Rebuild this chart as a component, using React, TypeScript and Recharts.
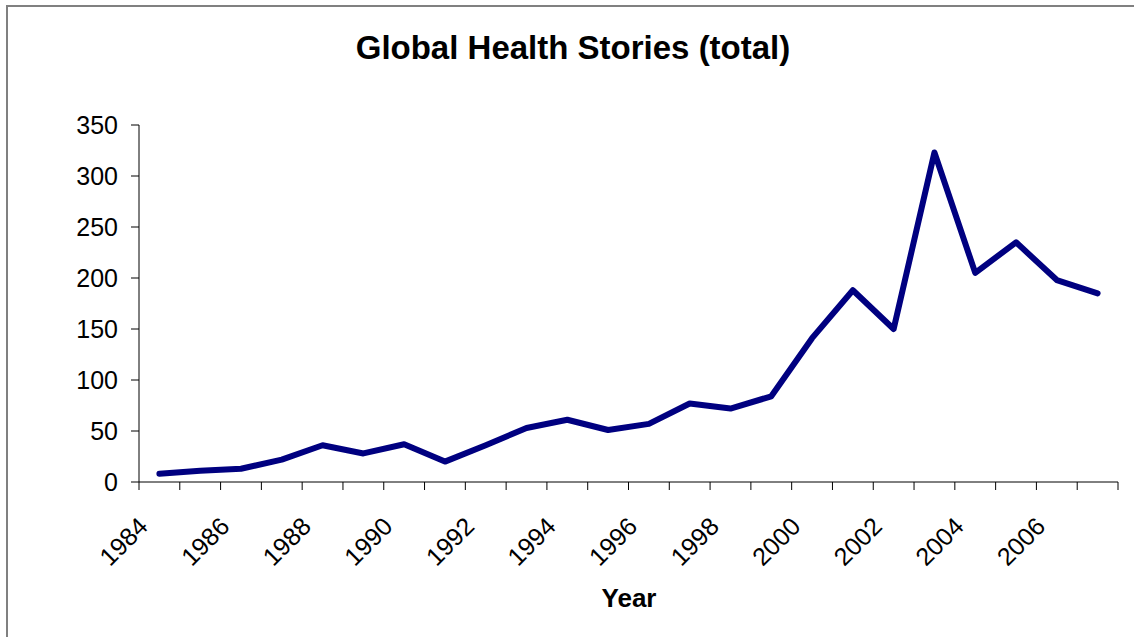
import { LineChart, Line, XAxis, YAxis } from "recharts";

// categories and values
const years = [
  1984, 1985, 1986, 1987, 1988, 1989, 1990, 1991, 1992, 1993, 1994, 1995,
  1996, 1997, 1998, 1999, 2000, 2001, 2002, 2003, 2004, 2005, 2006, 2007,
];
const stories = [
  8, 11, 13, 22, 36, 28, 37, 20, 36, 53, 61, 51,
  57, 77, 72, 84, 141, 188, 150, 323, 205, 235, 198, 185,
];
const yTicks = [0, 50, 100, 150, 200, 250, 300, 350];

const FONT = '"Liberation Sans", Arial, sans-serif';

// each year sits in the middle of its slot, tick marks fall between slots
const data = years.map((year, i) => ({ pos: i + 0.5, year, stories: stories[i] }));
const xTicks = Array.from({ length: years.length * 2 + 1 }, (_, i) => i / 2);

function YearTick({ x, y, payload }: { x: number; y: number; payload: { value: number } }) {
  const v = payload.value;
  if (Number.isInteger(v)) {
    return <line x1={x} x2={x} y1={y} y2={y + 8} stroke="#000" strokeWidth={1} />;
  }
  const year = years[Math.floor(v)];
  if (year === undefined || year % 2 !== 0) return <g />;
  const tx = x - 10;
  const ty = y + 46;
  return (
    <text
      x={tx}
      y={ty}
      transform={`rotate(-45 ${tx} ${ty})`}
      textAnchor="end"
      style={{ fontSize: 25, fill: "#000", fontFamily: FONT }}
    >
      {year}
    </text>
  );
}

export default function App() {
  return (
    <div
      style={{
        position: "absolute",
        left: 0,
        top: 0,
        width: 1134,
        height: 637,
        overflow: "hidden",
        background: "#fff",
      }}
    >
      {/* outer chart frame, runs off the right and bottom edges */}
      <div
        style={{
          position: "absolute",
          left: 6,
          top: 5,
          width: 1150,
          height: 660,
          border: "2px solid #808080",
        }}
      />
      <div style={{ position: "absolute", left: 0, top: 0 }}>
        <LineChart
          width={1134}
          height={637}
          data={data}
          margin={{ top: 125, right: 16, bottom: 0, left: 0 }}
        >
          <XAxis
            dataKey="pos"
            type="number"
            domain={[0, years.length]}
            ticks={xTicks}
            interval={0}
            tickSize={0}
            tickMargin={0}
            tickLine={false}
            axisLine={{ stroke: "#000", strokeWidth: 1 }}
            tick={YearTick as any}
            height={155}
          />
          <YAxis
            domain={[0, 350]}
            ticks={yTicks}
            interval={0}
            width={139}
            tickSize={8}
            tickMargin={13}
            axisLine={{ stroke: "#000", strokeWidth: 1 }}
            tickLine={{ stroke: "#000", strokeWidth: 1 }}
            tick={{ fontSize: 25, fill: "#000", fontFamily: FONT }}
          />
          <Line
            type="linear"
            dataKey="stories"
            stroke="#000080"
            strokeWidth={6}
            strokeLinejoin="round"
            strokeLinecap="round"
            dot={false}
            isAnimationActive={false}
          />
        </LineChart>
      </div>
      <svg
        width={1134}
        height={637}
        style={{ position: "absolute", left: 0, top: 0, pointerEvents: "none" }}
      >
        <text
          x={573}
          y={59}
          textAnchor="middle"
          style={{ fontSize: 33, fontWeight: 700, fill: "#000", fontFamily: FONT }}
        >
          Global Health Stories (total)
        </text>
        <text
          x={629}
          y={607}
          textAnchor="middle"
          style={{ fontSize: 26, fontWeight: 700, fill: "#000", fontFamily: FONT }}
        >
          Year
        </text>
      </svg>
    </div>
  );
}
